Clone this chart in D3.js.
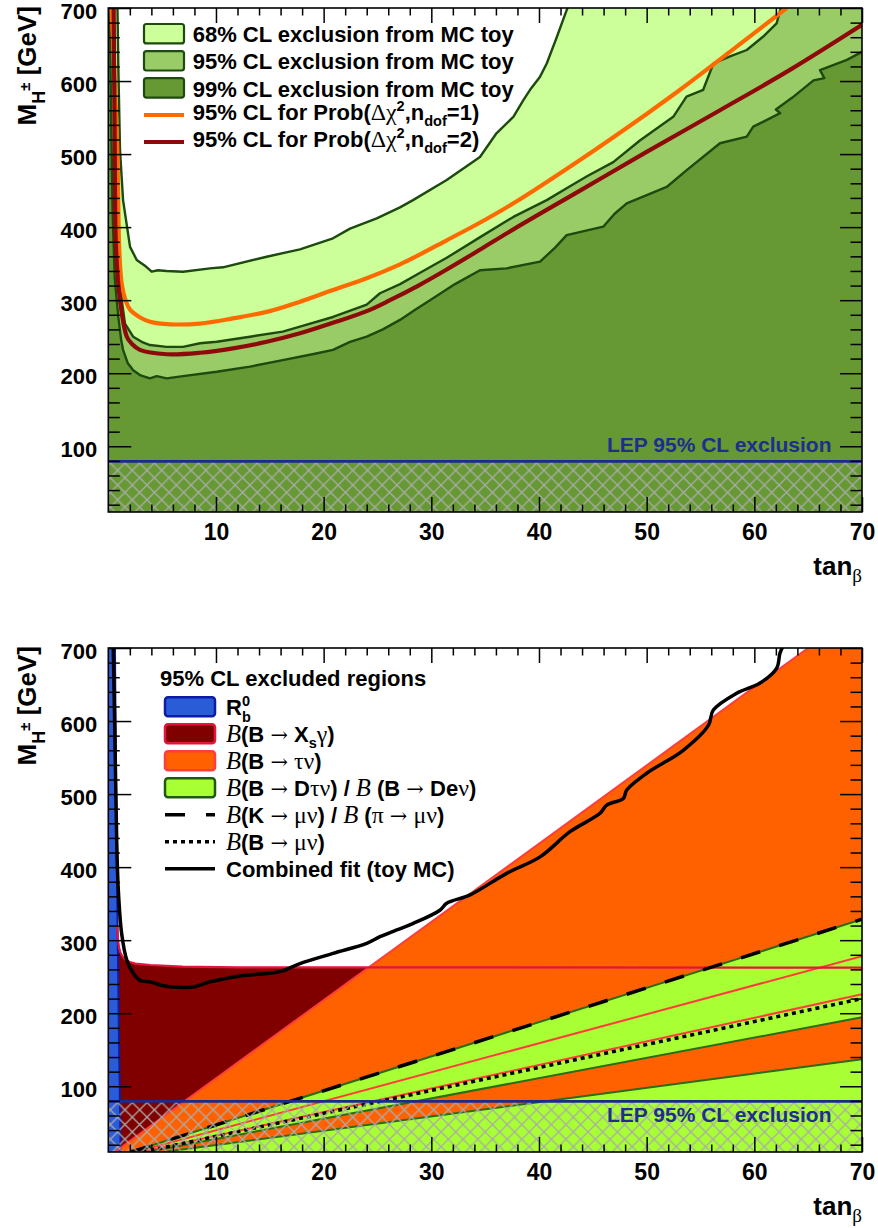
<!DOCTYPE html>
<html><head><meta charset="utf-8">
<script src="https://cdn.jsdelivr.net/npm/d3@7"></script>
<style>
html,body{margin:0;padding:0;background:#fff;}
svg{display:block;}
</style></head><body>
<svg id="chart" width="878" height="1228"></svg>
<script>
// ---------------- data ----------------
const xTicks = [10, 20, 30, 40, 50, 60, 70];
const yTicks = [100, 200, 300, 400, 500, 600, 700];
const xMinor = [2,4,6,8,12,14,16,18,22,24,26,28,32,34,36,38,42,44,46,48,52,54,56,58,62,64,66,68];
const yMinor = [20,40,60,80,120,140,160,180,220,240,260,280,320,340,360,380,420,440,460,480,520,540,560,580,620,640,660,680];
const lepLimit = 79.3;

// top panel: toy MC exclusion contours [tanBeta, M_H]
const cl68Edge = [[0.85,700],[0.93,620],[1.09,505],[1.37,437],[2.02,373],[2.64,355],[3.5,346],[4.03,339],[4.6,341],[5.42,340],[6.94,339],[9.45,343.6],[10.65,345],[14.71,359.5],[17.8,369.6],[20.87,384.7],[22.45,398],[24.93,412],[27.09,427],[28.3,437],[31.43,464.5],[34.52,496],[36.05,528.5],[37.62,551],[38.55,574],[39.17,588],[40.1,606],[40.72,624],[41.65,660],[42.57,697],[42.65,700]];
const cl95Edge = [[0.5,700],[0.62,580],[0.8,450],[1.0,360],[1.25,300],[1.55,268],[2.31,250],[3.1,243],[3.87,238.6],[5.42,236],[6.94,236],[8.52,241],[10.07,243],[13.16,250],[16.2,257],[17.8,263.7],[20.87,277],[24.0,294],[25.23,309.5],[27.1,322],[29.0,338],[31.43,358],[34.5,386],[37.62,414],[40.72,437],[42.88,456],[44.5,470],[46.9,489],[49.4,519],[52.47,551],[53.7,578.6],[55.25,588],[56.2,624],[57.8,634],[59.3,642.5],[60.8,660.6],[62.07,679],[62.4,697],[62.45,700]];
const cl99Edge = [[0.15,700],[0.25,560],[0.4,420],[0.6,330],[0.93,277],[1.2,245],[1.37,232],[1.8,214],[2.31,204],[3.0,197],[3.87,193],[4.5,196],[5.42,193],[6.94,196],[10.07,202],[13.16,209],[16.2,218],[19.3,227],[20.87,232],[22.45,243],[24.0,250],[25.5,260],[27.09,273],[28.5,287],[29.88,300],[32.2,322],[34.52,341],[37.0,343.6],[40.1,352.7],[41.5,372],[42.57,389],[45.97,400.6],[47.0,418],[48.15,432.6],[51.86,455],[53.72,478],[56.81,514.8],[59.3,524],[59.9,537.5],[62.4,556],[62.0,561],[63.5,577],[65.5,601],[66.5,604],[66.1,615],[68.6,629],[70,640]];
const prob1Line = [[0.3,700],[0.6,600],[0.84,505],[1.02,369],[1.24,323],[1.6,300],[2.02,287],[3.0,276],[3.87,270.5],[5.73,267],[8.52,268],[11.58,275],[14.71,284],[17.81,298],[20.87,314],[24.0,330],[27.09,349],[29.0,363],[31.43,382],[34.5,406],[37.62,432.6],[43.81,492],[50.0,555],[53.1,588],[58.0,643],[63.0,700]];
const prob2Line = [[0.5,700],[0.6,505],[0.72,369],[1.09,300],[1.72,250],[2.2,240],[2.94,232],[5.42,226],[8.52,228],[11.58,234],[14.71,243],[17.8,254.6],[20.87,269],[24.0,285],[26.16,300],[28.8,320],[31.43,342],[34.5,369],[37.62,397],[43.81,450],[50.0,503],[56.81,560],[63.5,617],[70,677]];

// bottom panel: 95% CL excluded regions
const rbEdge = [[1.15,10],[1.08,80],[1.0,150],[0.92,250],[0.85,330],[0.78,420],[0.7,550],[0.62,700]];
const bsgEdge = [[0.8,320],[0.9,300],[1.0,290],[1.1,284],[1.3,278],[1.6,273],[2.0,270],[2.5,268],[3.9,266],[6.9,263.7],[12,262.8],[70,262.5]];
const tauNuUpper = [[0.6,10],[65,700]];
const tauNuLow1 = [[2.52,10],[70,278]];
const tauNuLow2 = [[3.1,10],[70,226]];
const dtnUpper = [[2.13,10],[70,328.6]];
const dtnLower = [[3.6,10],[70,194.4]];
const dtn2Upper = [[5.1,10],[70,137]];
const kmunuLine = [[2.13,10],[70,328.6]];
const bmunuLine = [[3.18,10],[70,220]];
const combinedFit = [[0.46,700],[0.62,574],[0.78,437],[0.93,369],[1.24,309],[1.71,273],[2.32,254.6],[2.94,245],[3.87,243],[5.0,238],[6.35,235.5],[7.89,236],[9.45,243],[12.23,251],[15.95,257],[17.8,268],[20.87,282],[24.0,295.7],[25.23,304.8],[26.79,314],[28.33,323],[30.8,341],[31.43,350.5],[33.6,362],[37.0,391.5],[40.1,414],[42.88,448.5],[45.67,473.7],[46.29,485],[47.83,494],[48.15,505.6],[50.0,528.5],[53.4,560],[55.73,594],[56.19,615],[58.36,638],[60.53,652],[62.08,672.6],[62.38,693],[62.66,702]];

const topLegend = [
  [["68% CL exclusion from MC toy"]],
  [["95% CL exclusion from MC toy"]],
  [["99% CL exclusion from MC toy"]],
  [["95% CL for Prob("],["Δχ","g"],["2","sup"],[",n"],["dof","sub"],["=1)"]],
  [["95% CL for Prob("],["Δχ","g"],["2","sup"],[",n"],["dof","sub"],["=2)"]]
];
const bottomLegendTitle = "95% CL excluded regions";
const bottomLegend = [
  [["R"],["0","sup"],["b","subB"]],
  [["B","i"],["(B "],["→","a"],[" X"],["s","sub"],["γ","g"],[")"]],
  [["B","i"],["(B "],["→","a"],[" "],["τν","g"],[")"]],
  [["B","i"],["(B "],["→","a"],[" D"],["τν","g"],[") / "],["B","i"],[" (B "],["→","a"],[" De"],["ν","g"],[")"]],
  [["B","i"],["(K "],["→","a"],[" "],["μν","g"],[") / "],["B","i"],[" ("],["π","g"],[" "],["→","a"],[" "],["μν","g"],[")"]],
  [["B","i"],["(B "],["→","a"],[" "],["μν","g"],[")"]],
  [["Combined fit (toy MC)"]]
];
const lepText = "LEP 95% CL exclusion";

// ---------------- drawing ----------------
const SANS = "'Liberation Sans', Arial, Helvetica, sans-serif";
const SERIF = "'Liberation Serif', 'DejaVu Serif', 'Times New Roman', serif";
const ARROW = "'DejaVu Serif', 'DejaVu Sans', serif";
const svg = d3.select("#chart");
const defs = svg.append("defs");
const HP = 14.7;
const pat = defs.append("pattern").attr("id","hatch").attr("patternUnits","userSpaceOnUse")
  .attr("width",HP).attr("height",HP);
pat.append("path").attr("d",`M0,0L${HP},${HP}M0,${HP}L${HP},0`)
  .attr("stroke","#aaaaaa").attr("stroke-width",1.3).attr("fill","none");

const LEFT = 108.3, RIGHT = 862;

function rich(sel, x, y, parts, size, anchor){
  const t = sel.append("text").attr("x",x).attr("y",y)
    .attr("font-family",SANS).attr("font-weight","bold").attr("font-size",size)
    .attr("fill","#000");
  if(anchor) t.attr("text-anchor",anchor);
  let cur = 0;
  parts.forEach(([s,k])=>{
    const ts = t.append("tspan").text(s);
    let off = 0, fs = size;
    if(k==="g"){ ts.attr("font-family",SERIF).attr("font-weight","normal"); fs = size*1.08; }
    if(k==="a"){ ts.attr("font-family",ARROW).attr("font-weight","normal"); fs = size*0.95; }
    if(k==="i"){ ts.attr("font-family",SERIF).attr("font-style","italic").attr("font-weight","normal"); fs = size*1.12; }
    if(k==="sup"){ off = -size*0.42; fs = size*0.66; }
    if(k==="sub"){ off = size*0.28; fs = size*0.66; }
    if(k==="subB"){ off = size*0.3; fs = size*0.66; ts.attr("dx", -size*0.66*0.556); }
    ts.attr("font-size",fs);
    if(off!==cur) ts.attr("dy", off-cur);
    cur = off;
  });
  return t;
}

function panel(top, bottom, id){
  const x = d3.scaleLinear().domain([0,70]).range([LEFT,RIGHT]);
  const y = d3.scaleLinear().domain([10,700]).range([bottom,top]);
  const g = svg.append("g");
  defs.append("clipPath").attr("id",id).append("rect")
    .attr("x",LEFT).attr("y",top).attr("width",RIGHT-LEFT).attr("height",bottom-top);
  const plot = g.append("g").attr("clip-path",`url(#${id})`);
  const line = d3.line().x(d=>x(d[0])).y(d=>y(d[1]));
  const smooth = d3.line().x(d=>x(d[0])).y(d=>y(d[1])).curve(d3.curveCatmullRom.alpha(0.5));
  return {x,y,g,plot,line,smooth,top,bottom};
}

function lep(P, textAbove){
  P.plot.append("rect").attr("x",P.x(0)).attr("y",P.y(lepLimit))
    .attr("width",P.x(70)-P.x(0)).attr("height",P.y(10)-P.y(lepLimit))
    .attr("fill","url(#hatch)");
  P.plot.append("path").attr("d",P.line([[0,lepLimit],[70,lepLimit]]))
    .attr("stroke","#1c2a8e").attr("stroke-width",2.6).attr("fill","none");
  P.g.append("text").attr("x",831.5).attr("y", textAbove ? P.y(lepLimit)-9.5 : P.y(lepLimit)+21)
    .attr("text-anchor","end").attr("font-family",SANS).attr("font-weight","bold")
    .attr("font-size",21).attr("fill","#1d2e8f").text(lepText);
}

function axes(P){
  const g = P.g;
  const style = sel => {
    sel.select(".domain").remove();
    sel.selectAll(".tick line").attr("stroke","#000").attr("stroke-width",1.5);
    sel.attr("font-family",SANS).attr("font-weight","bold").attr("font-size",23);
    sel.selectAll("text").attr("fill","#000");
  };
  g.append("g").attr("transform",`translate(0,${P.bottom})`)
    .call(d3.axisBottom(P.x).tickValues(xTicks).tickSize(-15).tickPadding(12).tickFormat(d3.format("d"))).call(style);
  g.append("g").attr("transform",`translate(0,${P.bottom})`)
    .call(d3.axisBottom(P.x).tickValues(xMinor).tickSize(-7.5).tickFormat("")).call(style);
  g.append("g").attr("transform",`translate(0,${P.top})`)
    .call(d3.axisTop(P.x).tickValues(xTicks).tickSize(-15).tickFormat("")).call(style);
  g.append("g").attr("transform",`translate(0,${P.top})`)
    .call(d3.axisTop(P.x).tickValues(xMinor).tickSize(-7.5).tickFormat("")).call(style);
  const yl = g.append("g").attr("transform",`translate(${LEFT},0)`)
    .call(d3.axisLeft(P.y).tickValues(yTicks).tickSize(-23).tickPadding(11).tickFormat(d3.format("d"))).call(style);
  yl.attr("font-size",22).selectAll("text").attr("dy","0.47em");
  g.append("g").attr("transform",`translate(${LEFT},0)`)
    .call(d3.axisLeft(P.y).tickValues(yMinor).tickSize(-11.5).tickFormat("")).call(style);
  g.append("g").attr("transform",`translate(${RIGHT},0)`)
    .call(d3.axisRight(P.y).tickValues(yTicks).tickSize(-22).tickFormat("")).call(style);
  g.append("g").attr("transform",`translate(${RIGHT},0)`)
    .call(d3.axisRight(P.y).tickValues(yMinor).tickSize(-11.5).tickFormat("")).call(style);
  g.append("rect").attr("x",LEFT).attr("y",P.top).attr("width",RIGHT-LEFT).attr("height",P.bottom-P.top)
    .attr("fill","none").attr("stroke","#000").attr("stroke-width",1.6);
  // axis titles
  const yt = g.append("g").attr("transform",`translate(36,${P.top-2}) rotate(-90)`);
  const ytt = yt.append("text").attr("x",0).attr("y",0).attr("text-anchor","end")
    .attr("font-family",SANS).attr("font-weight","bold").attr("font-size",26).attr("fill","#000");
  ytt.append("tspan").text("M");
  ytt.append("tspan").text("H").attr("font-size",18).attr("dy",8.5);
  ytt.append("tspan").text("±").attr("font-size",15).attr("dy",-15);
  ytt.append("tspan").text(" [GeV]").attr("dy",6.5);
  const xt = g.append("text").attr("x",RIGHT).attr("y",P.bottom+63).attr("text-anchor","end")
    .attr("font-family",SANS).attr("font-weight","bold").attr("font-size",26);
  xt.append("tspan").text("tan");
  xt.append("tspan").text("β").attr("font-family",SERIF).attr("font-weight","normal")
    .attr("font-size",19).attr("dy",7);
}

// ======== top panel ========
const T = panel(8, 512, "clipTop");
function below(edge){
  const last = edge[edge.length-1];
  return [[0,700], ...edge, [70,last[1]], [70,10], [0,10]];
}
const fills = [[cl68Edge,"#ccff99"],[cl95Edge,"#99cc66"],[cl99Edge,"#669933"]];
fills.forEach(([e,c])=>{
  T.plot.append("path").attr("d",T.line(below(e))+"Z").attr("fill",c).attr("stroke","none");
});
fills.forEach(([e])=>{
  T.plot.append("path").attr("d",T.line(e)).attr("fill","none")
    .attr("stroke","#1d4a0e").attr("stroke-width",2.4).attr("stroke-linejoin","round");
});
T.plot.append("path").attr("d",T.smooth(prob1Line)).attr("fill","none")
  .attr("stroke","#ff6a00").attr("stroke-width",4.2);
T.plot.append("path").attr("d",T.smooth(prob2Line)).attr("fill","none")
  .attr("stroke","#8e0a0a").attr("stroke-width",4.2);
lep(T, true);
axes(T);

// top legend
const tl = T.g.append("g");
const tlFill = ["#ccff99","#99cc66","#669933"];
topLegend.forEach((parts,i)=>{
  const cy = 33.7 + i*27.1;
  if(i<3){
    tl.append("rect").attr("x",144).attr("y",cy-9.7).attr("width",40).attr("height",19.4)
      .attr("rx",2.5).attr("fill",tlFill[i]).attr("stroke","#1d4a0e").attr("stroke-width",2.2);
    rich(tl, 192.7, cy+8.6, parts, 22);
  } else {
    tl.append("line").attr("x1",144).attr("x2",184).attr("y1",cy).attr("y2",cy)
      .attr("stroke", i===3 ? "#ff6a00" : "#8e0a0a").attr("stroke-width",4);
    rich(tl, 192.7, cy+5, parts, 22);
  }
});

// ======== bottom panel ========
const B = panel(648, 1152, "clipBot");
// B -> Xs gamma (dark red)
B.plot.append("path").attr("d", B.line([[0,10],[0,320],...bsgEdge,[70,10]])+"Z")
  .attr("fill","#800000");
// B -> tau nu (orange)
B.plot.append("path").attr("d", B.line([...tauNuUpper,[70,700],...tauNuLow1.slice().reverse()])+"Z")
  .attr("fill","#ff6100");
B.plot.append("path").attr("d", B.line([...tauNuLow2,[70,10]])+"Z").attr("fill","#ff6100");
// B -> D tau nu (green)
B.plot.append("path").attr("d", B.line([...dtnUpper,...dtnLower.slice().reverse()])+"Z").attr("fill","#a8ff33");
B.plot.append("path").attr("d", B.line([...dtn2Upper,[70,10]])+"Z").attr("fill","#a8ff33");
// R_b (blue)
B.plot.append("path").attr("d", B.line([[0,10],...rbEdge,[0,700]])+"Z").attr("fill","#2b5cd8");
B.plot.append("path").attr("d", B.line(rbEdge)).attr("fill","none").attr("stroke","#0c1ca6").attr("stroke-width",2);
// outlines
[tauNuUpper, tauNuLow1, tauNuLow2].forEach(l=>{
  B.plot.append("path").attr("d",B.line(l)).attr("fill","none").attr("stroke","#ff3d3d").attr("stroke-width",2);
});
B.plot.append("path").attr("d",B.line(bsgEdge)).attr("fill","none").attr("stroke","#e3153f").attr("stroke-width",2.2);
[dtnUpper, dtnLower, dtn2Upper].forEach(l=>{
  B.plot.append("path").attr("d",B.line(l)).attr("fill","none").attr("stroke","#2d6b14").attr("stroke-width",2);
});
B.plot.append("path").attr("d",B.line(kmunuLine)).attr("fill","none").attr("stroke","#000")
  .attr("stroke-width",3.5).attr("stroke-dasharray","20,20");
B.plot.append("path").attr("d",B.line(bmunuLine)).attr("fill","none").attr("stroke","#000")
  .attr("stroke-width",3.5).attr("stroke-dasharray","4,4");
B.plot.append("path").attr("d",B.smooth(combinedFit)).attr("fill","none").attr("stroke","#000")
  .attr("stroke-width",3.5).attr("stroke-linejoin","round");
lep(B, false);
axes(B);

// bottom legend
const bl = B.g.append("g");
bl.append("text").attr("x",160).attr("y",686).attr("font-family",SANS).attr("font-weight","bold")
  .attr("font-size",22).text(bottomLegendTitle);
const boxStyle = [["#2b5cd8","#0c1ca6"],["#800000","#e3153f"],["#ff6100","#ff3d3d"],["#a8ff33","#1f5a0c"]];
bottomLegend.forEach((parts,i)=>{
  const cy = 706.7 + i*27;
  if(i<4){
    bl.append("rect").attr("x",165).attr("y",cy-9.5).attr("width",50).attr("height",19)
      .attr("rx",3).attr("fill",boxStyle[i][0]).attr("stroke",boxStyle[i][1]).attr("stroke-width",2.5);
  } else {
    const ln = bl.append("line").attr("x1",165).attr("x2",215).attr("y1",cy).attr("y2",cy)
      .attr("stroke","#000").attr("stroke-width",3.5);
    if(i===4) ln.attr("stroke-dasharray","20,21");
    if(i===5) ln.attr("stroke-dasharray","4,4");
  }
  rich(bl, 226, cy+8.3, parts, 22);
});
</script>
</body></html>
